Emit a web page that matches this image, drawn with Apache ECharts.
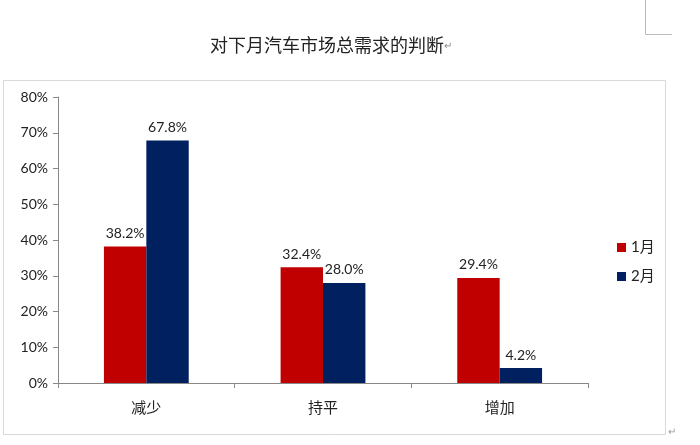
<!DOCTYPE html>
<html><head><meta charset="utf-8">
<script src="https://cdn.jsdelivr.net/npm/echarts@6/dist/echarts.min.js"></script>
<style>html,body{margin:0;padding:0;background:#fff}#c{width:700px;height:445px}</style>
</head><body><div id="c"></div>
<script>
const categories = ['减少', '持平', '增加'];
const seriesNames = ['1月', '2月'];
const jan = [38.2, 32.4, 29.4];
const feb = [67.8, 28.0, 4.2];
const yTicks = [0, 10, 20, 30, 40, 50, 60, 70, 80];
const colors = ['#C00000', '#002060'];
const FONT = 'Lato, "Noto Sans CJK SC", sans-serif';

const chart = echarts.init(document.getElementById('c'));
chart.setOption({
  animation: false,
  textStyle: { fontFamily: FONT },
  title: {
    text: '对下月汽车市场总需求的判断{m|↵}',
    left: 326, top: 31, textAlign: 'center',
    textStyle: { fontSize: 18, fontWeight: 'normal', color: '#222', fontFamily: '"Noto Sans CJK SC", sans-serif',
      rich: { m: { fontSize: 10, color: '#888' } } }
  },
  graphic: [
    { type: 'rect', shape: { x: 3.5, y: 80.5, width: 662, height: 354 }, style: { fill: 'none', stroke: '#d9d9d9', lineWidth: 1 } },
    { type: 'polyline', shape: { points: [[645.5, 0], [645.5, 34.5], [672, 34.5]] }, style: { fill: 'none', stroke: '#bbb', lineWidth: 1 } },
    { type: 'text', left: 668, top: 427, style: { text: '↵', fontSize: 10, fill: '#999' } }
  ],
  legend: {
    orient: 'vertical', left: 612, top: 235,
    itemWidth: 9, itemHeight: 9, itemGap: 14, icon: 'rect',
    textStyle: { fontSize: 15, color: '#222', fontFamily: FONT },
    data: seriesNames
  },
  grid: { left: 58, right: 112, top: 97, bottom: 62 },
  xAxis: {
    type: 'category', data: categories,
    axisLine: { lineStyle: { color: '#888' } },
    axisTick: { show: true, length: 5, lineStyle: { color: '#888' } },
    axisLabel: { fontSize: 15, color: '#222', margin: 17, fontFamily: '"Noto Sans CJK SC", sans-serif' }
  },
  yAxis: {
    type: 'value', min: 0, max: 80, interval: 10,
    axisLine: { show: true, lineStyle: { color: '#888' } },
    axisTick: { show: true, length: 5, lineStyle: { color: '#888' } },
    splitLine: { show: false },
    axisLabel: { fontSize: 14, color: '#222', margin: 10, formatter: v => yTicks.includes(v) ? v + '%' : '' }
  },
  series: [
    { name: seriesNames[0], type: 'bar', data: jan, barGap: '0%', barCategoryGap: '52%',
      itemStyle: { color: colors[0] },
      label: { show: true, position: 'top', distance: 6, fontSize: 14, color: '#222', formatter: p => p.value.toFixed(1) + '%' } },
    { name: seriesNames[1], type: 'bar', data: feb, barGap: '0%', barCategoryGap: '52%',
      itemStyle: { color: colors[1] },
      label: { show: true, position: 'top', distance: 6, fontSize: 14, color: '#222', formatter: p => p.value.toFixed(1) + '%' } }
  ]
});
</script></body></html>
